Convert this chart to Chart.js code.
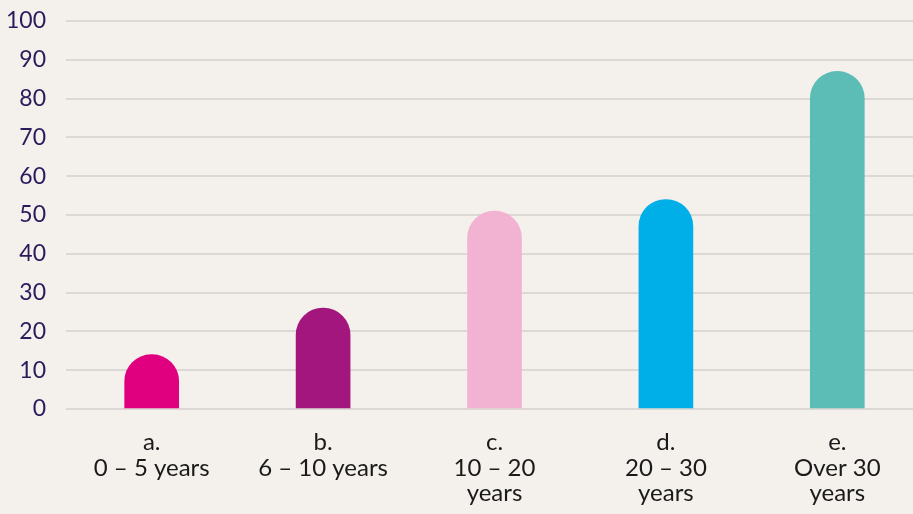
<!DOCTYPE html>
<html>
<head>
<meta charset="utf-8">
<script src="https://cdn.jsdelivr.net/npm/chart.js@4"></script>
<style>
  html, body { margin: 0; padding: 0; background: #f4f0ec; overflow: hidden; }
  #wrap { position: relative; width: 923px; height: 514px; }
</style>
</head>
<body>
<div id="wrap"><canvas id="graph"></canvas></div>
<script>
// categories and values
const categories = [
    ['a.', '0 \u2013 5 years'],
    ['b.', '6 \u2013 10 years'],
    ['c.', '10 \u2013 20', 'years'],
    ['d.', '20 \u2013 30', 'years'],
    ['e.', 'Over 30', 'years']
];
const values = [14, 26, 51, 54, 87];
const barColors = ['#e0007f', '#a3167d', '#f2b3d3', '#00aee8', '#5bbdb5'];
const yTicks = [0, 10, 20, 30, 40, 50, 60, 70, 80, 90, 100];

let ctx = document.getElementById('graph').getContext('2d');

let graph = new Chart(ctx, {
    type: 'bar',
    data: {
        labels: categories,
        datasets: [{
            data: values,
            backgroundColor: barColors,
            barThickness: 54,
            borderRadius: { topLeft: 27, topRight: 27, bottomLeft: 0, bottomRight: 0 },
            borderSkipped: 'bottom'
        }]
    },
    options: {
        responsive: true,
        maintainAspectRatio: false,
        animation: false,
        layout: {
            padding: { top: 21, right: 0, bottom: 0, left: 0 }
        },
        plugins: {
            legend: { display: false },
            tooltip: { enabled: false }
        },
        scales: {
            x: {
                grid: { display: false },
                border: { display: false },
                afterFit: (axis) => { axis.height = 105; },
                ticks: {
                    color: '#1a1a1a',
                    font: { family: 'Lato', size: 24, lineHeight: 1.05 },
                    padding: 13,
                    maxRotation: 0,
                    autoSkip: false
                }
            },
            y: {
                min: 0,
                max: 100,
                afterBuildTicks: (axis) => {
                    axis.ticks = yTicks.map(v => ({ value: v }));
                },
                afterFit: (axis) => {
                    axis.width = 66;
                    axis.paddingTop = 0;
                    axis.paddingBottom = 0;
                },
                grid: {
                    color: '#dcd8d5',
                    lineWidth: 2,
                    drawTicks: false
                },
                border: { display: false },
                ticks: {
                    color: '#2b1a5c',
                    font: { family: 'Lato', size: 23 },
                    padding: 20
                }
            }
        }
    }
});
</script>
</body>
</html>
